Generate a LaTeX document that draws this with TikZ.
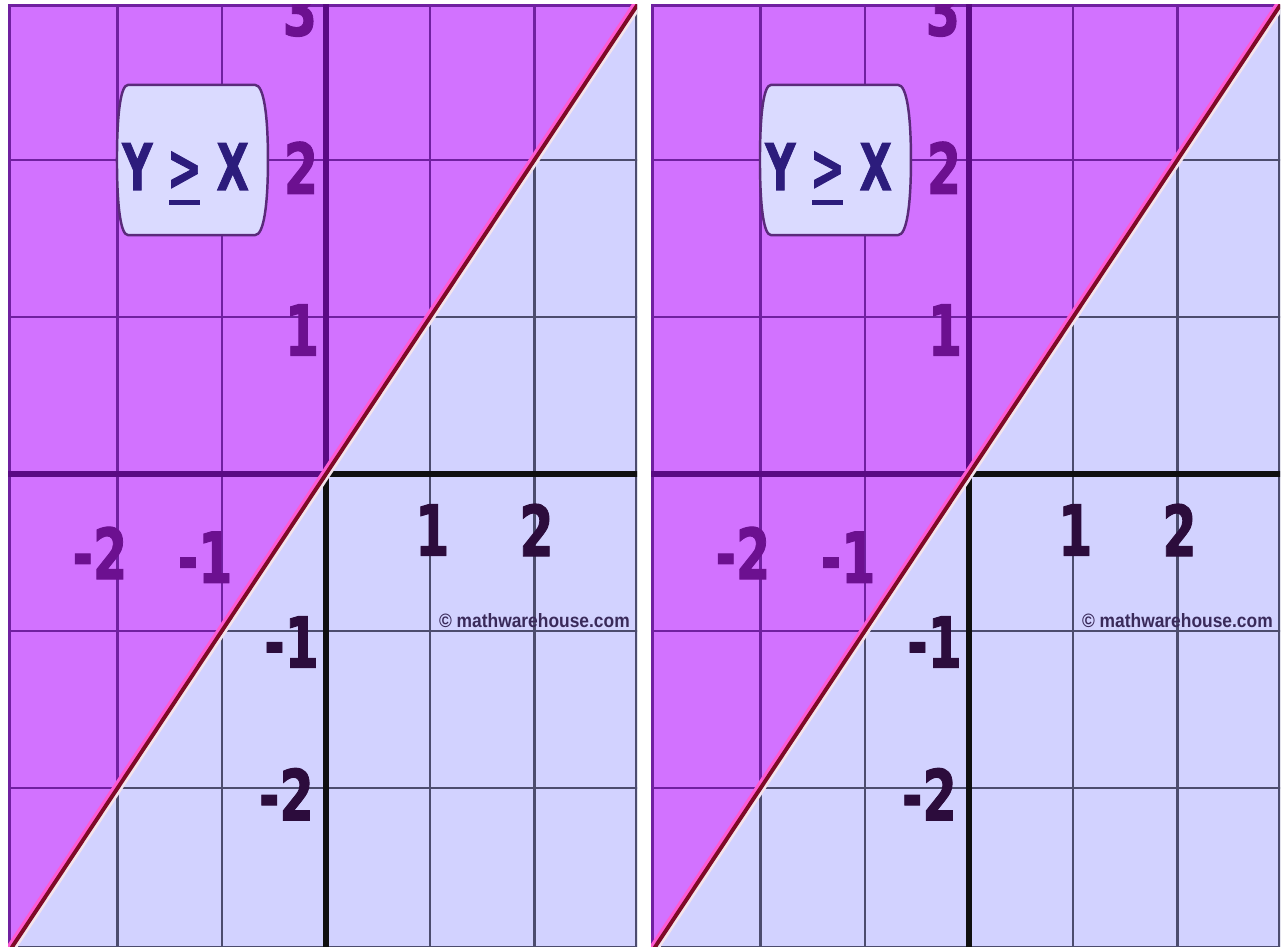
\documentclass[tikz,border=0pt]{standalone}
\usepackage{fontspec}
\usepackage{graphicx}
\newfontfamily\labfont{DejaVu Sans}[BoldFeatures={FakeBold=1.6}]
\newfontfamily\wmfont{Liberation Sans}
\newcommand{\sqz}[2][0.7]{\scalebox{#1}[1]{#2}}
\newcommand{\geqsign}{\rlap{\kern0.05em\rule[-0.23em]{0.74em}{0.075em}}>}
\definecolor{regtop}{HTML}{D272FF}
\definecolor{reglow}{HTML}{D2D2FF}
\definecolor{gridtop}{HTML}{7020A0}
\definecolor{gridlow}{HTML}{4C4C6E}
\definecolor{axtop}{HTML}{5A0A84}
\definecolor{axlow}{HTML}{101010}
\definecolor{labtop}{HTML}{6C1090}
\definecolor{lablow}{HTML}{2C0C3C}
\definecolor{bound}{HTML}{7E0A26}
\definecolor{halo}{HTML}{FF5AD2}
\definecolor{halolow}{HTML}{F4E4EC}
\definecolor{boxfill}{HTML}{DADAFF}
\definecolor{boxline}{HTML}{5A2A7A}
\definecolor{ineqcol}{HTML}{2C1C7C}
\definecolor{wmcol}{HTML}{3A2A5A}
\tikzset{
  gridline/.style={line width=0.7pt},
  axisline/.style={line width=1.8pt},
  border/.style={line width=1.4pt},
  num/.style={font=\fontsize{20}{24}\selectfont\labfont\bfseries, inner sep=0pt},
  ineqtext/.style={font=\fontsize{18.3}{22}\selectfont\labfont\bfseries, inner sep=0pt, text=ineqcol},
  wm/.style={font=\fontsize{5.5}{6.5}\selectfont\wmfont\bfseries, inner sep=0pt, text=wmcol},
  signbox/.style={fill=boxfill, draw=boxline, line width=0.7pt},
}
\begin{document}
\begin{tikzpicture}
\useasboundingbox (0,0) rectangle (12.84,-9.47);
\foreach \ox/\k in {3.26/L,9.69/R}{
\begin{scope}[shift={(\ox cm,-4.74cm)}, x={(1.042cm,0)}, y={(0,1.57cm)}]
  \clip (-3.05,-3.02) rectangle (2.985,2.99);
  \fill[regtop] (-3.05,-3.02) rectangle (2.985,2.99);
  \fill[reglow] (-3.2,-3.2) -- (3.2,3.2) -- (3.2,-3.2) -- cycle;
  % upper (shaded) region lines
  \begin{scope}
    \clip (-3.2,-3.2) -- (3.2,3.2) -- (-3.2,3.2) -- cycle;
    \foreach \g in {-2,-1,1,2}{
      \draw[gridline,gridtop] (\g,-3.2) -- (\g,3.2);
      \draw[gridline,gridtop] (-3.2,\g) -- (3.2,\g);
    }
    \draw[border,gridtop] (-3.05,-3.02) rectangle (2.985,2.99);
    \draw[axisline,axtop] (-3.2,0) -- (3.2,0);
    \draw[axisline,axtop] (0,-3.2) -- (0,3.2);
  \end{scope}
  % lower (light) region lines
  \begin{scope}
    \clip (-3.2,-3.2) -- (3.2,3.2) -- (3.2,-3.2) -- cycle;
    \foreach \g in {-2,-1,1,2}{
      \draw[gridline,gridlow] (\g,-3.2) -- (\g,3.2);
      \draw[gridline,gridlow] (-3.2,\g) -- (3.2,\g);
    }
    \draw[border,gridlow] (-3.05,-3.02) rectangle (2.985,2.99);
    \draw[axisline,axlow] (-3.2,0) -- (3.2,0);
    \draw[axisline,axlow] (0,-3.2) -- (0,3.2);
  \end{scope}
  % boundary line y = x
  \draw[halo, line width=1.2pt, xshift=-1.0pt] (-3.2,-3.2) -- (3.2,3.2);
  \draw[halolow, line width=0.8pt, xshift=1.1pt] (-3.2,-3.2) -- (3.2,3.2);
  \draw[bound, line width=1.1pt] (-3.2,-3.2) -- (3.2,3.2);
  % axis numbers
  \node[num,text=labtop] (ya\k) at (-0.25,2.955) {\sqz{3}};
  \node[num,text=labtop] (yb\k) at (-0.24,1.95) {\sqz{2}};
  \node[num,text=labtop] (yc\k) at (-0.23,0.917) {\sqz{1}};
  \node[num,text=lablow] (yd\k) at (-0.33,-1.07) {\sqz{-1}};
  \node[num,text=lablow] (ye\k) at (-0.38,-2.04) {\sqz{-2}};
  \node[num,text=labtop] (xa\k) at (-2.17,-0.503) {\sqz{-2}};
  \node[num,text=labtop] (xb\k) at (-1.16,-0.53) {\sqz{-1}};
  \node[num,text=lablow] (xc\k) at (1.02,-0.357) {\sqz{1}};
  \node[num,text=lablow] (xd\k) at (2.02,-0.357) {\sqz{2}};
  % inequality sign box
  \draw[signbox] (-1.90,2.478) -- (-0.68,2.478)
    .. controls (-0.60,2.478) and (-0.557,2.30) .. (-0.557,2.0)
    .. controls (-0.557,1.70) and (-0.60,1.522) .. (-0.68,1.522)
    -- (-1.90,1.522)
    .. controls (-1.97,1.522) and (-2.006,1.70) .. (-2.006,2.0)
    .. controls (-2.006,2.30) and (-1.97,2.478) .. (-1.90,2.478) -- cycle;
  \node[ineqtext,anchor=base] (ineq\k) at (-1.348,1.809) {\sqz[0.65]{Y \geqsign{} X}};
  % watermark
  \node[wm] (wm\k) at (2.0,-0.936) {\sqz[0.9]{\textcopyright{} mathwarehouse.com}};
\end{scope}
}
\end{tikzpicture}
\end{document}
